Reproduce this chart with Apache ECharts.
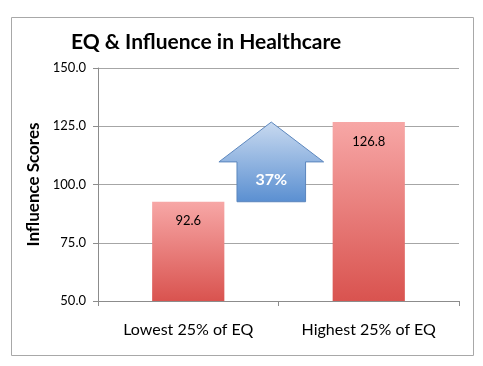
<!DOCTYPE html>
<html><head><meta charset="utf-8">
<script src="https://cdn.jsdelivr.net/npm/echarts@6/dist/echarts.min.js"></script>
<style>html,body{margin:0;padding:0;background:#fff}#c{width:483px;height:366px}</style>
</head><body><div id="c"></div>
<script>
const categories = ['Lowest 25% of EQ', 'Highest 25% of EQ'];
const scores = [92.6, 126.8];
const yTicks = [50, 75, 100, 125, 150];
const arrowLabel = ['37%'];

const FONT = 'Lato';
const chart = echarts.init(document.getElementById('c'), null, {renderer: 'canvas'});

const barGradient = new echarts.graphic.LinearGradient(0, 0, 0, 1, [
  {offset: 0, color: '#f7a7a6'},
  {offset: 1, color: '#d9534f'}
]);
const arrowGradient = new echarts.graphic.LinearGradient(0, 0, 0, 1, [
  {offset: 0, color: '#c9daf0'},
  {offset: 1, color: '#5a8fd1'}
]);

chart.setOption({
  animation: false,
  title: {
    text: 'EQ & Influence in Healthcare',
    left: 66, top: 27,
    textStyle: {fontFamily: FONT, fontSize: 21, fontWeight: 'bold', color: '#000'}
  },
  graphic: [{
    type: 'rect', left: 9, top: 15, z: -1,
    shape: {width: 462, height: 338},
    style: {fill: 'none', stroke: '#a8a8a8', lineWidth: 1}
  }],
  grid: {left: 98, right: 24, top: 68, bottom: 65},
  xAxis: {
    type: 'category', data: categories,
    axisLine: {lineStyle: {color: '#8c8c8c'}},
    axisTick: {show: true, length: 5, lineStyle: {color: '#8c8c8c'}},
    axisLabel: {fontFamily: FONT, fontSize: 16, color: '#000', margin: 21, interval: 0}
  },
  yAxis: {
    type: 'value', min: yTicks[0], max: yTicks[yTicks.length - 1], interval: 25,
    name: 'Influence Scores', nameLocation: 'middle', nameGap: 52, nameRotate: 90,
    nameTextStyle: {fontFamily: FONT, fontSize: 17, fontWeight: 'bold', color: '#000'},
    axisLine: {show: true, lineStyle: {color: '#8c8c8c'}},
    axisTick: {show: true, length: 5, lineStyle: {color: '#8c8c8c'}},
    splitLine: {lineStyle: {color: '#a6a6a6'}},
    axisLabel: {fontFamily: FONT, fontSize: 13, color: '#000', margin: 12,
      formatter: v => v.toFixed(1)}
  },
  series: [{
    type: 'bar', data: scores, barWidth: '40%',
    itemStyle: {color: barGradient},
    label: {show: true, position: 'insideTop', distance: 13,
      fontFamily: FONT, fontSize: 13, color: '#000',
      formatter: p => p.value.toFixed(1)}
  }, {
    type: 'custom',
    data: [[0, scores[0], scores[1]]],
    z: 5,
    renderItem: function (params, api) {
      const p0 = api.coord([0, api.value(1)]);
      const p1 = api.coord([1, api.value(2)]);
      const step = p1[0] - p0[0];
      const cx = p0[0] + step * 0.46;
      const yb = p0[1], yt = p1[1];
      const ym = (yb + yt) / 2;
      const hw = step * 0.29, sw = step * 0.19;
      const pts = [[cx, yt], [cx + hw, ym], [cx + sw, ym], [cx + sw, yb],
                   [cx - sw, yb], [cx - sw, ym], [cx - hw, ym]];
      return {
        type: 'group',
        children: [{
          type: 'polygon', shape: {points: pts},
          style: {fill: arrowGradient, stroke: '#5b86bd', lineWidth: 1}
        }, {
          type: 'text',
          style: {text: arrowLabel[0], x: cx, y: (ym + yb) / 2 - 2, align: 'center', verticalAlign: 'middle',
            fontFamily: FONT, fontSize: 16, fontWeight: 'bold', fill: '#fff'}
        }]
      };
    }
  }]
});
</script></body></html>
